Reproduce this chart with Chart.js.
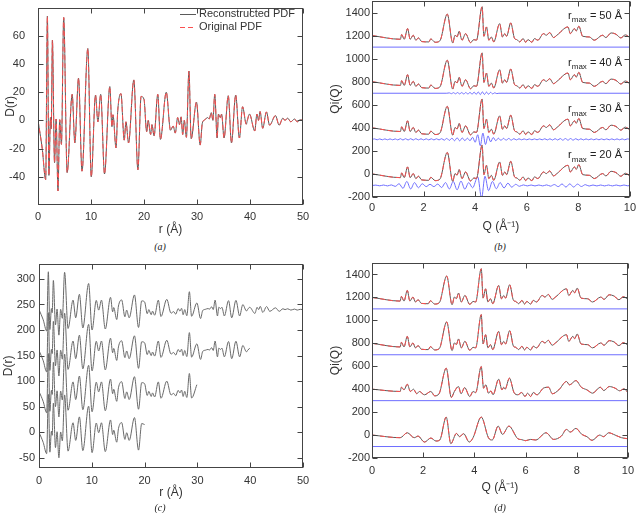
<!DOCTYPE html>
<html>
<head>
<meta charset="utf-8">
<script src="https://cdn.jsdelivr.net/npm/chart.js@4.4.0/dist/chart.umd.min.js"></script>
<style>
  body { margin: 0; background: #fff; width: 640px; height: 513px; position: relative; overflow: hidden; }
  canvas { position: absolute; }
  .cap { position: absolute; font-family: "Liberation Serif", serif; font-style: italic; font-size: 10px; color: #222; transform: translate(-50%, -50%); }
</style>
</head>
<body>
<canvas id="pa"></canvas>
<canvas id="pb"></canvas>
<canvas id="pc"></canvas>
<canvas id="pd"></canvas>
<div class="cap" style="left:160px;top:246px">(a)</div>
<div class="cap" style="left:500px;top:246px">(b)</div>
<div class="cap" style="left:160px;top:507px">(c)</div>
<div class="cap" style="left:500px;top:507px">(d)</div>
<script>
// D(r): [r, D]
var rPDF = [
  [0,0],[0.8,-20],[1.45,-42],[1.77,74],[2.06,-39],[2.35,2],[2.5,-6],[2.72,57],[3.12,-30],[3.42,1],
  [3.77,-50],[4.1,0.5],[4.42,-17],[4.85,73],[5.5,-37],[6.45,18.5],[6.95,-16],[7.65,30],[8.3,-36],
  [9.4,51],[10.05,-40],[10.85,18],[11.3,-1],[11.83,18.5],[12.55,-38],[13.55,24],[13.95,-4.5],
  [14.15,4],[14.72,-19.5],[15.05,7],[15.65,19],[16.27,-14],[16.6,-1],[17.08,-16],[18.08,28.7],
  [18.85,-35],[19.45,17],[20.0,15],[20.5,-8],[20.8,0],[21.25,-10],[21.5,-3],[21.9,-11],[22.6,18.5],
  [23.1,-13.5],[24.2,20],[25.0,-7],[25.5,-4],[25.9,-9],[26.35,2],[26.7,-3],[27.0,2.5],[27.3,-10],
  [27.6,0],[28.0,-12],[28.48,35],[28.9,-13],[29.9,13],[30.6,-17.5],[31.0,-2],[31.5,0.5],[32.0,2],
  [32.3,1],[32.7,5.5],[33.0,0],[33.35,18.5],[33.8,-12.5],[34.05,4.5],[34.4,2],[34.65,4.5],[35.1,-12.5],
  [35.9,17.5],[36.5,-16],[37.3,18],[38.0,-12.5],[38.6,9.7],[39.3,-2.7],[39.5,0],[39.9,4.5],[40.9,-7.5],
  [41.3,4.5],[41.6,0],[41.9,6.3],[42.4,-5.6],[43.1,6],[43.7,-3.4],[44.8,3.4],[45.5,-3.4],[46.2,1.6],
  [46.6,0],[47.1,1.6],[47.7,-1],[48.4,1],[48.9,-1],[49.5,0.5],[50,0]
];

// Qi(Q) without offset, full range (panel b, top of d)
var qiFull = [
  [0,0],[1.1,-32],[1.15,9],[1.25,-32],[1.38,61],[1.48,-32],[1.6,3],[1.7,-40],[1.8,-20],[1.93,-52],
  [2.2,-55],[2.28,-29],[2.45,-58],[2.63,-46],[2.92,186],[3.13,-64],[3.22,3],[3.3,-10],[3.38,38],
  [3.49,-40],[3.63,17],[3.82,-61],[3.95,-35],[4.05,-40],[4.27,250],[4.34,-6],[4.44,75],[4.53,-40],
  [4.63,-12],[4.72,-55],[4.95,104],[5.06,-12],[5.15,17],[5.22,-6],[5.38,110],[5.53,-26],[5.62,-35],
  [5.73,-55],[5.86,-26],[5.96,-58],[6.05,-35],[6.2,-58],[6.3,-26],[6.43,-40],[6.65,17],[6.76,3],
  [6.89,26],[7.04,-17],[7.17,3],[7.6,75],[7.69,17],[7.85,61],[7.92,40],[8.02,81],[8.17,-6],[8.43,-12],
  [8.62,-40],[8.94,3],[9.07,-17],[9.27,23],[9.46,12],[9.65,-20],[9.82,6],[10,-17]
];
// Qi(Q) from truncated D(r), panel d
var qiCut30 = [
  [0,0],[1.1,-20],[1.15,17],[1.25,-6],[1.38,43],[1.5,-20],[1.62,0],[1.75,-40],[1.85,-20],[2.05,-49],
  [2.3,-20],[2.45,-58],[2.62,-40],[2.9,183],[3.1,-72],[3.22,-20],[3.38,23],[3.48,-40],[3.62,14],
  [3.82,-64],[3.95,-20],[4.05,-30],[4.27,197],[4.36,9],[4.45,38],[4.55,-35],[4.65,-15],[4.73,-49],
  [4.95,87],[5.08,-6],[5.15,17],[5.2,0],[5.37,96],[5.55,-29],[5.7,-49],[5.85,-29],[5.98,-64],
  [6.08,-35],[6.2,-64],[6.3,-29],[6.45,-49],[6.7,9],[6.9,17],[7.05,-40],[7.3,-6],[7.6,67],[7.72,38],
  [7.97,75],[8.18,17],[8.4,-6],[8.62,-35],[8.92,17],[9.06,-12],[9.27,23],[9.5,9],[9.68,-14],[9.85,3],[10,-29]
];
var qiCut20 = [
  [0,0],[1.1,-23],[1.38,20],[1.65,-23],[1.8,-9],[2.05,-61],[2.3,-26],[2.5,-52],[2.65,-43],[2.9,157],
  [3.08,-75],[3.3,14],[3.42,-14],[3.58,12],[3.8,-61],[3.95,-23],[4.27,157],[4.55,-23],[4.7,-43],
  [4.93,78],[5.1,6],[5.35,78],[5.7,-32],[5.85,-40],[6.0,-49],[6.2,-38],[6.4,-43],[6.8,20],[7.1,-38],
  [7.4,-9],[7.6,49],[7.75,26],[7.97,58],[8.2,6],[8.4,-14],[8.6,-46],[8.9,0],[9.05,-14],[9.25,20],
  [9.5,0],[9.75,-23],[10,-32]
];

// difference curves (blue), panel b
var diff20 = [
  [0,0],[0.15,3],[0.3,-3],[0.45,4],[0.6,-4],[0.75,5],[0.9,-8],[1.05,15],[1.2,-25],[1.35,35],[1.5,-30],
  [1.65,25],[1.8,-20],[1.95,15],[2.1,-10],[2.25,10],[2.4,-10],[2.55,12],[2.7,-18],[2.85,25],[3.0,-30],
  [3.15,35],[3.3,-38],[3.45,38],[3.6,-32],[3.75,25],[3.9,-20],[4.1,75],[4.25,-110],[4.38,80],[4.52,-45],
  [4.67,35],[4.82,-28],[4.97,25],[5.12,-22],[5.27,20],[5.42,-15],[5.57,10],[5.72,-7],[5.87,5],[6.02,-4],
  [6.17,4],[6.32,-4],[6.47,4],[6.62,-4],[6.77,5],[6.92,-6],[7.07,8],[7.22,-10],[7.37,13],[7.52,-14],
  [7.67,14],[7.82,-14],[7.97,12],[8.12,-9],[8.27,7],[8.42,-5],[8.57,4],[8.72,-4],[8.87,4],[9.02,-4],
  [9.17,4],[9.32,-4],[9.47,4],[9.62,-4],[9.77,4],[9.92,-3],[10,0]
];
var diff30 = [
  [0,0],[0.1,4],[0.2,-4],[0.3,4],[0.4,-4],[0.5,4],[0.6,-4],[0.7,4],[0.8,-4],[0.9,4],[1.0,-5],[1.1,6],
  [1.2,-6],[1.3,6],[1.4,-6],[1.5,6],[1.6,-6],[1.7,6],[1.8,-5],[1.9,5],[2.0,-5],[2.1,5],[2.2,-5],[2.3,5],
  [2.4,-5],[2.5,5],[2.6,-5],[2.7,6],[2.8,-7],[2.9,8],[3.0,-9],[3.1,10],[3.2,-12],[3.3,13],[3.4,-13],
  [3.5,12],[3.6,-11],[3.7,10],[3.8,-12],[3.9,18],[4.0,-25],[4.1,40],[4.2,-55],[4.3,55],[4.4,-45],
  [4.5,30],[4.6,-22],[4.7,16],[4.8,-12],[4.9,10],[5.0,-9],[5.1,9],[5.2,-8],[5.3,8],[5.4,-7],[5.5,6],
  [5.6,-5],[5.7,5],[5.8,-4],[5.9,4],[6.0,-4],[6.1,4],[6.2,-4],[6.3,4],[6.4,-4],[6.5,4],[6.6,-4],
  [6.7,5],[6.8,-5],[6.9,5],[7.0,-6],[7.1,6],[7.2,-6],[7.3,7],[7.4,-7],[7.5,7],[7.6,-7],[7.7,7],
  [7.8,-7],[7.9,6],[8.0,-6],[8.1,5],[8.2,-5],[8.3,4],[8.4,-4],[8.5,4],[8.6,-4],[8.7,4],[8.8,-4],
  [8.9,4],[9.0,-4],[9.1,4],[9.2,-4],[9.3,4],[9.4,-4],[9.5,4],[9.6,-4],[9.7,4],[9.8,-4],[9.9,4],[10,0]
];
var diff40 = [
  [0,0],[2.9,0],[3.0,3],[3.08,-4],[3.16,5],[3.24,-5],[3.32,6],[3.4,-6],[3.48,6],[3.56,-7],[3.64,7],
  [3.72,-8],[3.8,8],[3.88,-9],[3.96,10],[4.04,-10],[4.12,11],[4.2,-12],[4.28,12],[4.36,-11],[4.44,10],
  [4.52,-9],[4.6,8],[4.68,-6],[4.76,4],[4.84,-3],[4.92,0],[10,0]
];
var diff50 = [[0,0],[10,0]];
var flat = [[0,0],[10,0]];

var rmaxLabels = [50, 40, 30, 20];
var qiOffsets = [1200, 800, 400, 0];
var diffOffsets = [1100, 700, 300, -100];
var drOffsets = [240, 160, 80, 0];

var rTicks = [0, 10, 20, 30, 40, 50];
var qTicks = [0, 2, 4, 6, 8, 10];
var dTicksA = [-40, -20, 0, 20, 40, 60];
var dTicksC = [-50, 0, 50, 100, 150, 200, 250, 300];
var qiTicks = [-200, 0, 200, 400, 600, 800, 1000, 1200, 1400];

var BLACK = "rgb(90,90,90)";
var RED = "rgb(250,80,80)";
var BLUE = "rgb(110,110,255)";
var GRAY = "rgb(105,105,105)";
var TXT = "#333";

function pts(arr, off, maxX) {
  return arr.filter(function (p) { return maxX == null || p[0] <= maxX; })
    .map(function (p) { return { x: p[0], y: p[1] + off }; });
}

var framePlugin = {
  id: "frame",
  afterDatasetsDraw: function (chart) {
    var a = chart.chartArea, ctx = chart.ctx;
    var xs = chart.scales.x, ys = chart.scales.y;
    var l = Math.round(a.left) + 0.5, r = Math.round(a.right) - 0.5;
    var t = Math.round(a.top) + 0.5, b = Math.round(a.bottom) - 0.5;
    ctx.save();
    ctx.strokeStyle = "#444";
    ctx.lineWidth = 1;
    ctx.strokeRect(l, t, r - l, b - t);
    ctx.beginPath();
    xs.ticks.forEach(function (tk) {
      var p = Math.round(xs.getPixelForValue(tk.value)) + 0.5;
      ctx.moveTo(p, b); ctx.lineTo(p, b - 5);
      ctx.moveTo(p, t); ctx.lineTo(p, t + 5);
    });
    ys.ticks.forEach(function (tk) {
      var p = Math.round(ys.getPixelForValue(tk.value)) + 0.5;
      ctx.moveTo(l, p); ctx.lineTo(l + 5, p);
      ctx.moveTo(r, p); ctx.lineTo(r - 5, p);
    });
    ctx.stroke();
    ctx.restore();
  }
};

function plain(v) { return String(v); }

function panel(id, g, xr, yr, xt, yt, xTitle, yTitle, datasets, extra) {
  var cv = document.getElementById(id);
  var left = g.L - g.yW, top = g.T - g.pt;
  cv.width = g.R + g.pr - left;
  cv.height = g.B + g.xH - top;
  cv.style.left = left + "px";
  cv.style.top = top + "px";
  cv.style.width = cv.width + "px";
  cv.style.height = cv.height + "px";
  var font = { family: "'Liberation Sans', Arial, sans-serif", size: 11 };
  return new Chart(cv, {
    type: "line",
    data: { datasets: datasets },
    options: {
      responsive: false,
      animation: false,
      devicePixelRatio: 1,
      layout: { padding: { left: 0, top: g.pt, right: g.pr, bottom: 0 } },
      elements: {
        point: { radius: 0 },
        line: { borderWidth: 1, cubicInterpolationMode: "monotone" }
      },
      plugins: { legend: { display: false }, tooltip: { enabled: false } },
      scales: {
        x: {
          type: "linear", min: xr[0], max: xr[1],
          grid: { display: false, drawTicks: false }, border: { display: false },
          ticks: { color: TXT, font: font, padding: g.xp, callback: plain },
          title: { display: true, text: xTitle, color: TXT, font: { family: font.family, size: 12 }, padding: { top: 0, bottom: g.xtb } },
          afterBuildTicks: function (s) { s.ticks = xt.map(function (v) { return { value: v }; }); },
          afterFit: function (s) { s.height = g.xH; }
        },
        y: {
          type: "linear", min: yr[0], max: yr[1],
          grid: { display: false, drawTicks: false }, border: { display: false },
          ticks: { color: TXT, font: font, padding: g.yp, callback: plain },
          title: { display: true, text: yTitle, color: TXT, font: { family: font.family, size: 12 }, padding: { top: g.ytt, bottom: 0 } },
          afterBuildTicks: function (s) { s.ticks = yt.map(function (v) { return { value: v }; }); },
          afterFit: function (s) { s.width = g.yW; }
        }
      }
    },
    plugins: [framePlugin].concat(extra || [])
  });
}

// legend for panel (a)
var legendA = {
  id: "legendA",
  afterDraw: function (chart) {
    var ctx = chart.ctx;
    var ox = chart.canvas.offsetLeft, oy = chart.canvas.offsetTop;
    ctx.save();
    ctx.font = "11px 'Liberation Sans', Arial, sans-serif";
    ctx.textBaseline = "middle";
    ctx.fillStyle = TXT;
    ctx.lineWidth = 1;
    ctx.strokeStyle = BLACK;
    ctx.beginPath(); ctx.moveTo(180 - ox, 14.5 - oy); ctx.lineTo(196 - ox, 14.5 - oy); ctx.stroke();
    ctx.strokeStyle = RED; ctx.setLineDash([5, 3]);
    ctx.beginPath(); ctx.moveTo(180 - ox, 27.5 - oy); ctx.lineTo(196 - ox, 27.5 - oy); ctx.stroke();
    ctx.setLineDash([]);
    ctx.fillText("Reconstructed PDF", 199 - ox, 14 - oy);
    ctx.fillText("Original PDF", 199 - ox, 27 - oy);
    ctx.restore();
  }
};

// r_max labels for panel (b)
var rmaxB = {
  id: "rmaxB",
  afterDraw: function (chart) {
    var ctx = chart.ctx;
    var ox = chart.canvas.offsetLeft, oy = chart.canvas.offsetTop;
    var ys = [16, 62.7, 109.3, 155.3];
    var big = "11px 'Liberation Sans', Arial, sans-serif";
    var small = "8px 'Liberation Sans', Arial, sans-serif";
    ctx.save();
    ctx.fillStyle = "#222";
    ctx.textBaseline = "middle";
    rmaxLabels.forEach(function (v, i) {
      var rest = " = " + v + " \u00C5";
      ctx.font = big; var w1 = ctx.measureText("r").width, w3 = ctx.measureText(rest).width;
      ctx.font = small; var w2 = ctx.measureText("max").width;
      var x = 622 - ox - (w1 + w2 + w3), y = ys[i] - oy;
      ctx.font = big; ctx.fillText("r", x, y);
      ctx.font = small; ctx.fillText("max", x + w1, y + 4);
      ctx.font = big; ctx.fillText(rest, x + w1 + w2, y);
    });
    ctx.restore();
  }
};

// panel (a)
panel("pa", { L: 38, R: 303, T: -2, B: 205, yW: 38, pt: 10, pr: 17, xH: 34, xp: 5, yp: 13, xtb: 2, ytt: 3 },
  [0, 50], [-60, 80], rTicks, dTicksA, "r (\u00C5)", "D(r)", [
    { data: pts(rPDF, 0), borderColor: RED, borderDash: [5, 3], order: 1 },
    { data: pts(rPDF, 0), borderColor: BLACK, order: 2 }
  ], [legendA]);

// panel (b)
var dsB = [];
var diffs = [diff50, diff40, diff30, diff20];
qiOffsets.forEach(function (off, i) {
  dsB.push({ data: pts(qiFull, off), borderColor: RED, borderDash: [5, 3], order: 1 });
  dsB.push({ data: pts(qiFull, off), borderColor: BLACK, order: 2 });
  dsB.push({ data: pts(diffs[i], diffOffsets[i]), borderColor: BLUE, order: 3 });
});
panel("pb", { L: 372, R: 631, T: 1, B: 197, yW: 45, pt: 10, pr: 9, xH: 38, xp: 4, yp: 2, xtb: 1, ytt: 1 },
  [0, 10], [-200, 1500], qTicks, qiTicks, "Q (\u00C5\u207B\u00B9)", "Qi(Q)", dsB, [rmaxB]);

// panel (c)
var dsC = [];
rmaxLabels.forEach(function (rm, i) {
  dsC.push({ data: pts(rPDF, drOffsets[i], rm), borderColor: GRAY });
});
panel("pc", { L: 39, R: 303, T: 263, B: 468, yW: 39, pt: 10, pr: 17, xH: 34, xp: 6, yp: 4, xtb: 2, ytt: 1 },
  [0, 50], [-70, 330], rTicks, dTicksC, "r (\u00C5)", "D(r)", dsC);

// panel (d)
var dsD = [];
var qiD = [qiFull, qiFull, qiCut30, qiCut20];
qiOffsets.forEach(function (off, i) {
  dsD.push({ data: pts(qiD[i], off), borderColor: RED, borderDash: [5, 3], order: 1 });
  dsD.push({ data: pts(qiD[i], off), borderColor: BLACK, order: 2 });
  dsD.push({ data: pts(flat, diffOffsets[i]), borderColor: BLUE, order: 3 });
});
panel("pd", { L: 372, R: 631, T: 263, B: 458, yW: 45, pt: 10, pr: 9, xH: 38, xp: 6, yp: 2, xtb: 1, ytt: 1 },
  [0, 10], [-200, 1500], qTicks, qiTicks, "Q (\u00C5\u207B\u00B9)", "Qi(Q)", dsD);
</script>
</body>
</html>
